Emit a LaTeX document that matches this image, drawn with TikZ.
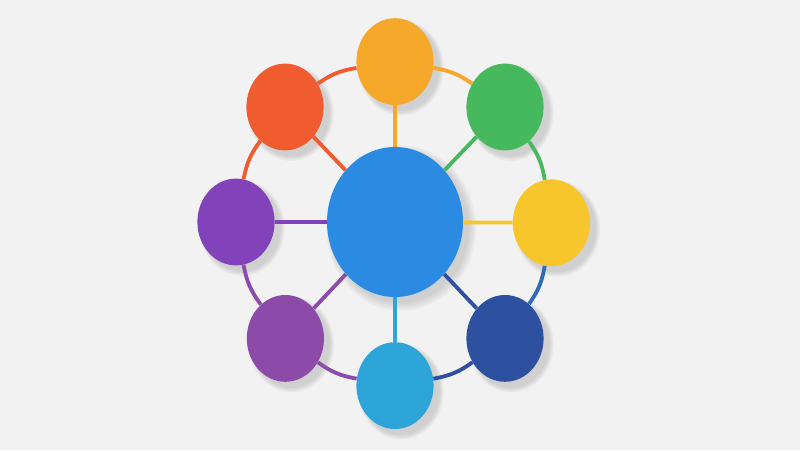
\documentclass[tikz,border=0pt]{standalone}
\usetikzlibrary{shapes.geometric,shadows}
\definecolor{paper}{HTML}{F2F2F2}
\definecolor{hubblue}{HTML}{2B8BE2}
\definecolor{sunorange}{HTML}{F5A82A}
\definecolor{leafgreen}{HTML}{46B95E}
\definecolor{lemon}{HTML}{F6C62C}
\definecolor{navy}{HTML}{2D50A0}
\definecolor{sky}{HTML}{2EA5D8}
\definecolor{lilac}{HTML}{8C4BA8}
\definecolor{grape}{HTML}{8242BA}
\definecolor{tomato}{HTML}{F05B30}
\definecolor{ringblue}{HTML}{2E6CB8}
\begin{document}
\begin{tikzpicture}[
    softshade/.style={general shadow={fill=black, opacity=0.035, shadow xshift=4pt,
        shadow yshift=-4pt, shadow scale=#1}},
    bubble/.style={ellipse, inner sep=0pt, minimum width=1.93cm, minimum height=2.17cm,
        softshade=1.1, softshade=1.07, softshade=1.04, softshade=1.01},
    spoke/.style={line width=2.7pt},
    ring/.style={line width=2.7pt, bend left=13}]
    \fill[paper] (-9.875,-5.7) rectangle (10.125,5.55);
    % hub and the eight satellites
    \node[bubble, fill=hubblue, minimum width=3.4cm, minimum height=3.75cm] (hub) at (0,0) {};
    \node[bubble, fill=sunorange] (top) at (0,4.01) {};
    \node[bubble, fill=leafgreen] (ne) at (2.75,2.875) {};
    \node[bubble, fill=lemon] (east) at (3.91,-0.02) {};
    \node[bubble, fill=navy] (se) at (2.75,-2.91) {};
    \node[bubble, fill=sky] (bottom) at (0,-4.09) {};
    \node[bubble, fill=lilac] (sw) at (-2.74,-2.91) {};
    \node[bubble, fill=grape] (west) at (-3.975,0) {};
    \node[bubble, fill=tomato] (nw) at (-2.75,2.875) {};
    % spokes
    \draw[spoke, sunorange] (hub) -- (top);
    \draw[spoke, leafgreen] (hub) -- (ne);
    \draw[spoke, lemon] (hub) -- (east);
    \draw[spoke, navy] (hub) -- (se);
    \draw[spoke, sky] (hub) -- (bottom);
    \draw[spoke, lilac] (hub) -- (sw);
    \draw[spoke, grape] (hub) -- (west);
    \draw[spoke, tomato] (hub) -- (nw);
    % outer ring
    \draw[ring, tomato] (nw) to (top);
    \draw[ring, sunorange] (top) to (ne);
    \draw[ring, leafgreen] (ne) to (east);
    \draw[ring, ringblue] (east) to (se);
    \draw[ring, navy] (se) to (bottom);
    \draw[ring, lilac] (bottom) to (sw);
    \draw[ring, lilac] (sw) to (west);
    \draw[ring, tomato] (west) to (nw);
\end{tikzpicture}
\end{document}
